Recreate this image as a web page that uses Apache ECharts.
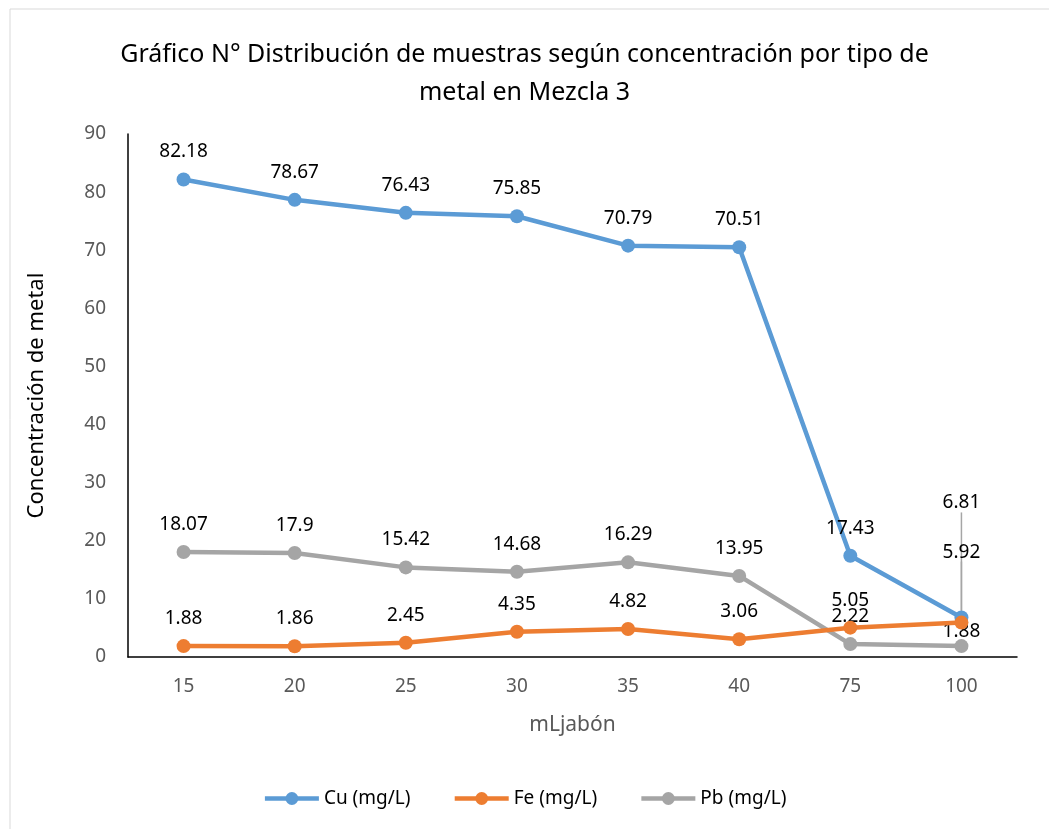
<!DOCTYPE html>
<html>
<head>
<meta charset="utf-8">
<script src="https://cdn.jsdelivr.net/npm/echarts@6/dist/echarts.min.js"></script>
<style>
  html, body { margin: 0; padding: 0; background: #fff; }
  #chart { width: 1049px; height: 829px; }
</style>
</head>
<body>
<div id="chart"></div>
<script>
var categories = ['15', '20', '25', '30', '35', '40', '75', '100']
var cuValues = [82.18, 78.67, 76.43, 75.85, 70.79, 70.51, 17.43, 6.81]
var feValues = [1.88, 1.86, 2.45, 4.35, 4.82, 3.06, 5.05, 5.92]
var pbValues = [18.07, 17.9, 15.42, 14.68, 16.29, 13.95, 2.22, 1.88]

var font = 'Noto Sans, Liberation Sans, sans-serif'

// shifts: label moved by dy for some points, with a leader line when leader is true
function makeSeries(name, values, color, shifts, leader) {
  return {
    name: name,
    type: 'line',
    data: values.map(function (v, i) {
      return leader && shifts[i] ? { value: v, labelLine: { show: true } } : v
    }),
    symbol: 'circle',
    symbolSize: 14,
    lineStyle: { width: 4.5, color: color },
    itemStyle: { color: color },
    label: {
      show: true,
      position: 'top',
      distance: 11,
      color: '#000',
      fontSize: 19,
      fontFamily: font
    },
    labelLine: { show: false, lineStyle: { color: '#a6a6a6', width: 1.5 } },
    labelLayout: function (p) {
      var dy = shifts[p.dataIndex]
      return dy ? { dy: dy } : {}
    },
    z: name === 'Pb (mg/L)' ? 1 : 2
  }
}

var chart = echarts.init(document.getElementById('chart'))
chart.setOption({
  animation: false,
  graphic: [{
    type: 'rect',
    shape: { x: 10, y: 9, width: 1045, height: 830 },
    style: { fill: 'none', stroke: '#d9d9d9', lineWidth: 1 }
  }],
  title: {
    text: 'Gráfico N° Distribución de muestras según concentración por tipo de\nmetal en Mezcla 3',
    left: 'center',
    top: 31,
    textStyle: { fontSize: 25, fontWeight: 'normal', color: '#000', fontFamily: font, lineHeight: 38 }
  },
  legend: {
    data: ['Cu (mg/L)', 'Fe (mg/L)', 'Pb (mg/L)'],
    bottom: 16,
    left: 'center',
    itemWidth: 54,
    itemHeight: 16,
    itemGap: 42,
    lineStyle: { width: 4.5 },
    textStyle: { fontSize: 19, color: '#000', fontFamily: font }
  },
  grid: { left: 128, right: 32, top: 134, bottom: 172 },
  xAxis: {
    type: 'category',
    data: categories,
    name: 'mLjabón',
    nameLocation: 'middle',
    nameGap: 58,
    nameTextStyle: { fontSize: 21, color: '#595959', fontFamily: font },
    axisLine: { lineStyle: { color: '#000', width: 1.5 } },
    axisTick: { show: false },
    axisLabel: { fontSize: 19, color: '#595959', margin: 20, fontFamily: font }
  },
  yAxis: {
    type: 'value',
    min: 0,
    max: 90,
    interval: 10,
    name: 'Concentración de metal',
    nameLocation: 'middle',
    nameGap: 80,
    nameTextStyle: { fontSize: 22, color: '#000', fontFamily: font },
    axisLine: { show: true, lineStyle: { color: '#000', width: 1.5 } },
    axisTick: { show: false },
    splitLine: { show: false },
    axisLabel: { fontSize: 19, color: '#595959', margin: 22, fontFamily: font }
  },
  series: [
    makeSeries('Cu (mg/L)', cuValues, '#5b9bd5', { 7: -87 }, true),
    makeSeries('Fe (mg/L)', feValues, '#ed7d31', { 7: -43 }, true),
    makeSeries('Pb (mg/L)', pbValues, '#a5a5a5', { 7: 13 }, false)
  ]
})
</script>
</body>
</html>
